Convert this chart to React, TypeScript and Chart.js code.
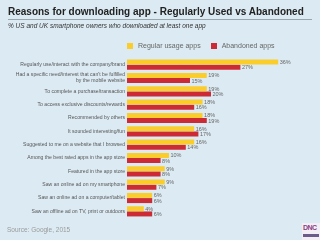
import React, { useEffect, useRef } from "react";
import { Chart, registerables } from "chart.js";
Chart.register(...registerables);

const categories: (string | string[])[] = [
  "Regularly use/interact with the company/brand",
  ["Had a specific need/interest that can't be fulfilled", "by the mobile website"],
  "To complete a purchase/transaction",
  "To access exclusive discounts/rewards",
  "Recommended by others",
  "It sounded interesting/fun",
  "Suggested to me on a website that I browsed",
  "Among the best rated apps in the app store",
  "Featured in the app store",
  "Saw an online ad on my smartphone",
  "Saw an online ad on a computer/tablet",
  "Saw an offline ad on TV, print or outdoors",
];
const regularUsage = [36, 19, 19, 18, 18, 16, 16, 10, 9, 9, 6, 4];
const abandoned = [27, 15, 20, 16, 19, 17, 14, 8, 8, 7, 6, 6];
const seriesNames = ["Regular usage apps", "Abandoned apps"];
const YELLOW = "#fbcd2c";
const RED = "#cc2b36";
const FONT = "'Liberation Sans', Arial, sans-serif";

const valueLabels = {
  id: "valueLabels",
  afterDatasetsDraw(chart: any) {
    const ctx = chart.ctx;
    ctx.save();
    ctx.font = `5.5px ${FONT}`;
    ctx.fillStyle = "#666";
    ctx.textBaseline = "middle";
    ctx.textAlign = "left";
    chart.data.datasets.forEach((ds: any, i: number) => {
      const meta = chart.getDatasetMeta(i);
      meta.data.forEach((el: any, j: number) => {
        ctx.fillText(ds.data[j] + "%", el.x + 1.5, el.y + 0.5);
      });
    });
    ctx.restore();
  },
};

export default function App() {
  const ref = useRef<HTMLCanvasElement>(null);
  useEffect(() => {
    const chart = new Chart(ref.current!, {
      type: "bar",
      data: {
        labels: categories,
        datasets: [
          { label: seriesNames[0], data: regularUsage, backgroundColor: YELLOW },
          { label: seriesNames[1], data: abandoned, backgroundColor: RED },
        ],
      },
      options: {
        indexAxis: "y",
        animation: false,
        responsive: false,
        maintainAspectRatio: false,
        layout: { padding: { top: 58, bottom: 22, right: 25, left: 0 } },
        datasets: { bar: { categoryPercentage: 0.78, barPercentage: 0.96 } },
        scales: {
          x: { display: false, min: 0, max: 40 },
          y: {
            afterFit: (s: any) => { s.width = 127; },
            grid: { display: false, drawTicks: false },
            border: { display: false },
            ticks: {
              padding: 2,
              color: "#555",
              font: { family: FONT, size: 5.1, lineHeight: 1.2 },
              autoSkip: false,
            },
          },
        },
        plugins: { legend: { display: false }, tooltip: { enabled: false } },
      },
      plugins: [valueLabels],
    });
    return () => chart.destroy();
  }, []);
  return (
    <div style={{ position: "fixed", left: 0, top: 0, width: 320, height: 240, background: "#dcebf3", fontFamily: FONT, overflow: "hidden" }}>
      <canvas ref={ref} width={320} height={240} style={{ position: "absolute", left: 0, top: 0 }} />
      <div style={{ position: "absolute", left: 8, top: 6, fontSize: 10, fontWeight: "bold", color: "#222", whiteSpace: "nowrap" }}>
        Reasons for downloading app - Regularly Used vs Abandoned
      </div>
      <div style={{ position: "absolute", left: 8, top: 19, width: 304, height: 1, background: "#9aa6ad" }} />
      <div style={{ position: "absolute", left: 8, top: 22, fontSize: 6.5, fontStyle: "italic", color: "#333", whiteSpace: "nowrap" }}>
        % US and UK smartphone owners who downloaded at least one app
      </div>
      <div style={{ position: "absolute", left: 127, top: 42, fontSize: 7, color: "#666", whiteSpace: "nowrap", display: "flex", alignItems: "center" }}>
        <span style={{ display: "inline-block", width: 6, height: 6, background: YELLOW, marginRight: 5 }} />
        <span>{seriesNames[0]}</span>
        <span style={{ display: "inline-block", width: 6, height: 6, background: RED, marginLeft: 10, marginRight: 5 }} />
        <span>{seriesNames[1]}</span>
      </div>
      <div style={{ position: "absolute", left: 7, top: 226, fontSize: 6.5, color: "#999", whiteSpace: "nowrap" }}>
        Source: Google, 2015
      </div>
      <div style={{ position: "absolute", left: 302, top: 223, width: 18, height: 17, background: "#f3eef3" }}>
        <div style={{ fontSize: 7, fontWeight: "bold", color: "#8a3f86", letterSpacing: -0.5, lineHeight: "10px", paddingLeft: 1 }}>DNC</div>
        <div style={{ height: 3, margin: "1px 1px 0", background: "#6b5b8a" }} />
      </div>
    </div>
  );
}
